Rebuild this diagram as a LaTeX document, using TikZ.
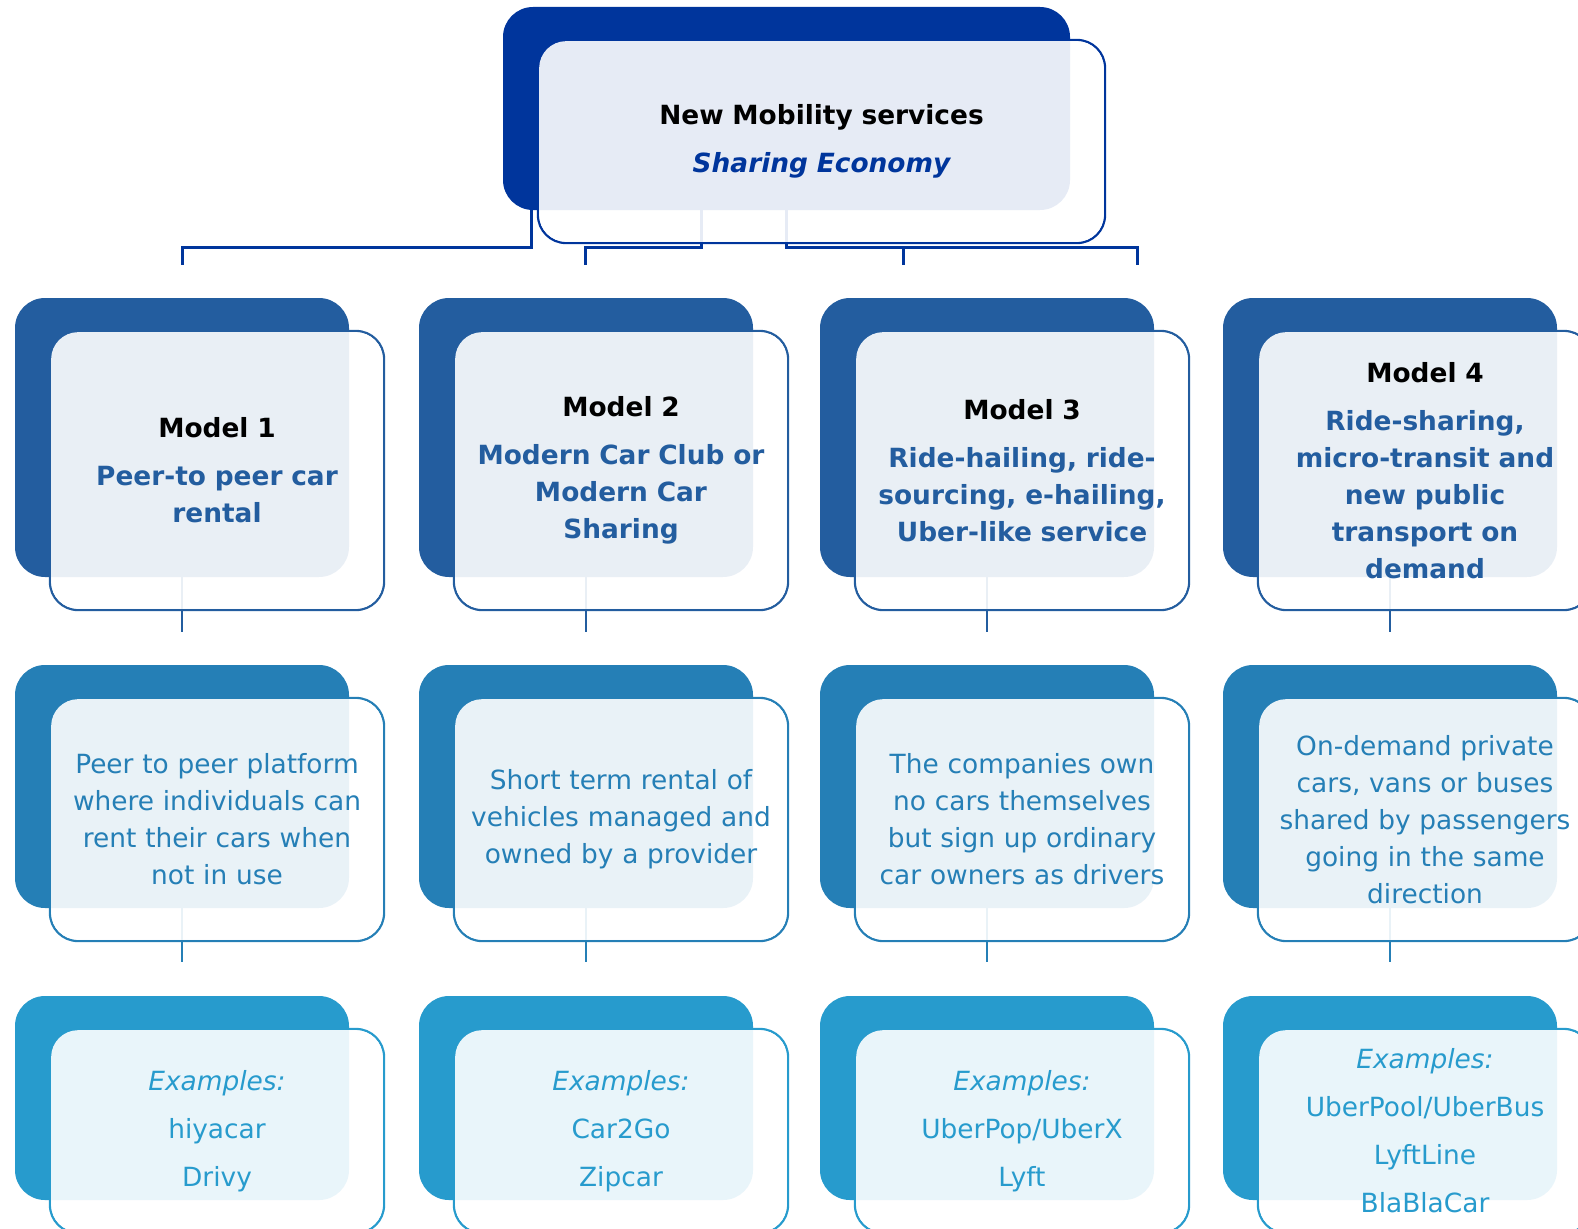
\documentclass[tikz,border=0pt]{standalone}
\usepackage{fontspec}
\setmainfont{DejaVu Sans}
\usetikzlibrary{calc}
\definecolor{c0}{HTML}{00359C}
\definecolor{c1}{HTML}{235D9F}
\definecolor{c2}{HTML}{257FB6}
\definecolor{c3}{HTML}{279BCD}
\pgfdeclarelayer{bg}
\pgfsetlayers{bg,main}
\tikzset{
  backbox/.style={rectangle, rounded corners=30pt, inner sep=0pt, draw=none},
  frameline/.style={rectangle, rounded corners=28pt, inner sep=0pt, line width=2.3pt, fill=none},
  facebox/.style={rectangle, rounded corners=27pt, inner sep=0pt, fill=white, fill opacity=0.9,
    text opacity=1, align=center, font=\fontsize{26.4}{37}\selectfont},
  rootconn/.style={line width=3pt, c0},
  conn/.style={line width=2.5pt},
}
% #1 name, #2 cx, #3 cy (back centre), #4 width, #5 height, #6 box colour, #7 text colour, #8 text width, #9 text
\newcommand\unitbox[9]{%
  \node[frameline, draw=#6, minimum width=#4pt, minimum height=#5pt] (#1o) at (#2+35,#3+33) {};
  \node[backbox, fill=#6, minimum width=#4pt, minimum height=#5pt] (#1b) at (#2,#3) {};
  \node[facebox, text=#7, text width=#8pt, minimum width=#4pt-2.3pt, minimum height=#5pt-2.3pt] (#1) at (#1o.center) {#9};
}
\begin{document}
\begin{tikzpicture}[x=1pt,y=-1pt]
\useasboundingbox (0,0) rectangle (1578,1228);
\clip (0,0) rectangle (1578,1228);

% root
\unitbox{root}{786.5}{108.5}{567}{203}{c0}{black}{540}{\bfseries New Mobility services\\[11pt]\color{c0}\itshape Sharing Economy}

% models
\unitbox{ma}{182}{437.5}{334}{279}{c1}{black}{324}{\bfseries Model 1\\[11pt]\color{c1}Peer-to peer car\\rental}
\unitbox{mb}{586}{437.5}{334}{279}{c1}{black}{324}{\bfseries Model 2\\[11pt]\color{c1}Modern Car Club or\\Modern Car\\Sharing}
\unitbox{mc}{987}{437.5}{334}{279}{c1}{black}{324}{\bfseries Model 3\\[11pt]\color{c1}Ride-hailing, ride-\\sourcing, e-hailing,\\Uber-like service}
\unitbox{md}{1390}{437.5}{334}{279}{c1}{black}{324}{\bfseries Model 4\\[11pt]\color{c1}Ride-sharing,\\micro-transit and\\new public\\transport on\\demand}

% descriptions
\unitbox{da}{182}{786.5}{334}{243}{c2}{c2}{324}{Peer to peer platform\\where individuals can\\rent their cars when\\not in use}
\unitbox{db}{586}{786.5}{334}{243}{c2}{c2}{324}{Short term rental of\\vehicles managed and\\owned by a provider}
\unitbox{dc}{987}{786.5}{334}{243}{c2}{c2}{324}{The companies own\\no cars themselves\\but sign up ordinary\\car owners as drivers}
\unitbox{dd}{1390}{786.5}{334}{243}{c2}{c2}{324}{On-demand private\\cars, vans or buses\\shared by passengers\\going in the same\\direction}

% examples
\unitbox{xa}{182}{1098}{334}{204}{c3}{c3}{324}{\itshape Examples:\\[11pt]\upshape hiyacar\\[11pt]Drivy}
\unitbox{xb}{586}{1098}{334}{204}{c3}{c3}{324}{\itshape Examples:\\[11pt]\upshape Car2Go\\[11pt]Zipcar}
\unitbox{xc}{987}{1098}{334}{204}{c3}{c3}{324}{\itshape Examples:\\[11pt]\upshape UberPop/UberX\\[11pt]Lyft}
\unitbox{xd}{1390}{1098}{334}{204}{c3}{c3}{324}{\itshape Examples:\\[11pt]\upshape UberPool/UberBus\\[11pt]LyftLine\\[11pt]BlaBlaCar}

\coordinate (e1) at (182,265);
\coordinate (e2) at (585,265);
\coordinate (e3) at (903,265);
\coordinate (e4) at (1137,265);

\begin{pgfonlayer}{bg}
  \draw[rootconn] ($(rootb.south west)+(29,0)$) -- ++(0,37) -| (e1);
  \draw[rootconn] ($(rootb.south west)+(199,0)$) -- ++(0,37) -| (e2);
  \draw[rootconn] ($(rootb.south west)+(284,0)$) -- ++(0,37) -| (e4);
  \draw[rootconn] (e3 |- 0,247) -- (e3);
  \foreach \c in {a,b,c,d}{
    \draw[conn, c1] (m\c b.south) -- ++(0,55);
    \draw[conn, c2] (d\c b.south) -- ++(0,54);
  }
\end{pgfonlayer}
\end{tikzpicture}
\end{document}
